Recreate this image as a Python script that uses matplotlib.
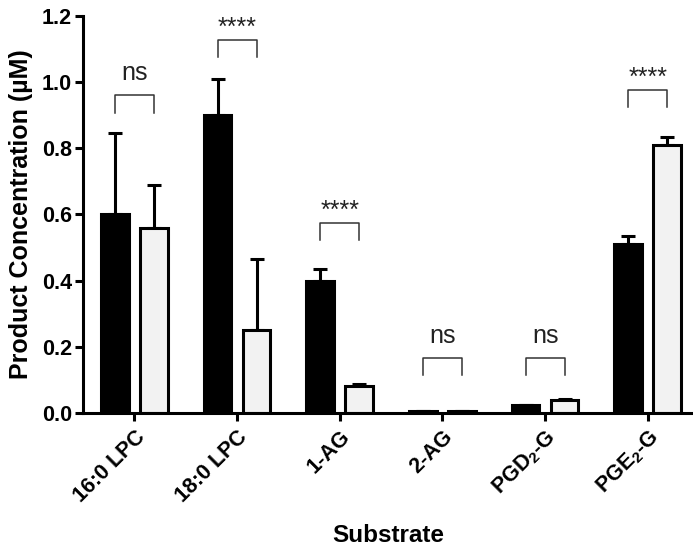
import matplotlib
matplotlib.use("Agg")
import matplotlib.pyplot as plt
import numpy as np

plt.rcParams['font.family'] = ['Liberation Sans', 'DejaVu Sans']
plt.rcParams['mathtext.fontset'] = 'custom'
plt.rcParams['mathtext.rm'] = 'Liberation Sans:bold'
plt.rcParams['mathtext.bf'] = 'Liberation Sans:bold'
plt.rcParams['mathtext.default'] = 'bf'

categories = ['16:0 LPC', '18:0 LPC', '1-AG', '2-AG', r'PGD$_2$-G', r'PGE$_2$-G']
black_vals = [0.60, 0.90, 0.40, 0.005, 0.025, 0.51]
black_err = [0.245, 0.11, 0.035, 0.0, 0.0, 0.025]
light_vals = [0.56, 0.25, 0.083, 0.005, 0.04, 0.81]
light_err = [0.13, 0.215, 0.004, 0.0, 0.003, 0.025]
sig_labels = ['ns', '****', '****', 'ns', 'ns', '****']
bracket_tops = [0.96, 1.128, 0.574, 0.166, 0.166, 0.976]

fig = plt.figure(figsize=(6.93, 5.46), dpi=100)
ax = fig.add_axes([83/693, 133/546, 610/693, 397/546])

x = np.arange(len(categories))
off = 0.19
w = 0.27
lw = 2.2
ax.bar(x - off, black_vals, w, color='black', edgecolor='black', linewidth=lw, zorder=2)
ax.bar(x + off, light_vals, w, color='#f2f2f2', edgecolor='black', linewidth=lw, zorder=2)
ax.errorbar(x - off, black_vals, yerr=[np.zeros(len(x)), black_err], fmt='none',
            ecolor='black', elinewidth=lw, capsize=5, capthick=lw, zorder=1)
ax.errorbar(x + off, light_vals, yerr=[np.zeros(len(x)), light_err], fmt='none',
            ecolor='black', elinewidth=lw, capsize=5, capthick=lw, zorder=1)

leg = 0.052
for i, (lab, top) in enumerate(zip(sig_labels, bracket_tops)):
    x0, x1 = i - off, i + off
    ax.plot([x0, x0, x1, x1], [top - leg, top, top, top - leg], color='#333333', lw=1.1,
            clip_on=False)
    if lab == 'ns':
        ax.text(i, top + 0.03, lab, ha='center', va='bottom', fontsize=18, color='#222222')
    else:
        ax.text(i, top + 0.0, lab, ha='center', va='bottom', fontsize=18, color='#222222')

ax.set_xlim(-0.5, 5.44)
ax.set_ylim(0, 1.2)
ax.set_yticks([0.0, 0.2, 0.4, 0.6, 0.8, 1.0, 1.2])
ax.set_yticklabels(['0.0', '0.2', '0.4', '0.6', '0.8', '1.0', '1.2'], fontweight='bold', fontsize=15.5)
ax.set_xticks(x)
ax.set_xticklabels(categories, rotation=45, ha='right', rotation_mode='anchor',
                   fontweight='bold', fontsize=15.5)
for s in ['top', 'right']:
    ax.spines[s].set_visible(False)
for s in ['left', 'bottom']:
    ax.spines[s].set_linewidth(2.2)
ax.tick_params(axis='both', width=2.2, length=6, direction='out')
ax.tick_params(axis='y', pad=2)
ax.set_ylabel('Product Concentration (µM)', fontweight='bold', fontsize=18, labelpad=6)
ax.set_xlabel('Substrate', fontweight='bold', fontsize=17.5)
ax.xaxis.set_label_coords(0.5, -122 / 397, transform=ax.transAxes)
ax.xaxis.label.set_va('center')

fig.savefig('out.png', dpi=100)
